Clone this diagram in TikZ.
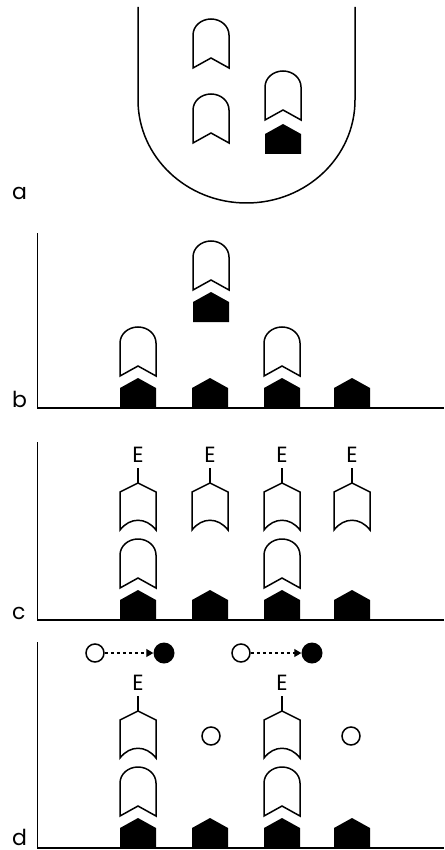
\documentclass[tikz,border=0pt]{standalone}
\usepackage{fontspec}
\setmainfont{Poppins}
\usetikzlibrary{arrows.meta}
\tikzset{
  outline/.style  = {draw, line width=1.5pt, fill=white},
  axis/.style     = {line width=1.7pt},
  lbl/.style      = {font=\fontsize{22}{24}\selectfont, inner sep=0pt},
  opencirc/.style = {circle, draw, line width=1.5pt, minimum size=18pt, inner sep=0pt},
  dot/.style      = {circle, fill=black, minimum size=21pt, inner sep=0pt},
  dasharr/.style  = {-{Triangle[length=7pt,width=8pt]}, dash pattern=on 3.5pt off 2.5pt,
                     line width=1.1pt},
  % open unit: rounded top, notched foot
  receptor/.pic   = {
    \draw[outline] (-18,0) -- (-18,-33)
      arc[start angle=180, end angle=360, x radius=18, y radius=16]
      -- (18,0) -- (0,-10) -- cycle;
  },
  % filled five-sided base
  anchorbase/.pic = {
    \fill (-18,0) -- (-18,-20) -- (0,-30) -- (18,-20) -- (18,0) -- cycle;
  },
  % pointed unit with hollow foot, carrying E
  enzyme/.pic     = {
    \draw[outline] (-18,0) .. controls (-8,-13) and (8,-13) .. (18,0)
      -- (18,-38) -- (0,-47) -- (-18,-38) -- cycle;
    \draw[line width=1.5pt] (0,-47) -- (0,-62);
    \node[lbl, anchor=base] (-e) at (0,-68) {E};
  }
}

\begin{document}
\begin{tikzpicture}[x=1pt, y=-1pt]
  \useasboundingbox (0,0) rectangle (444,850);

  % a
  \draw[line width=1.5pt] (138,7) -- (138,100)
    arc[start angle=180, end angle=0, x radius=108.5, y radius=103] -- (355,7);
  \pic at (211,68)  {receptor};
  \pic at (211,143) {receptor};
  \pic at (283,120) {receptor};
  \pic at (283,154) {anchorbase};
  \node[lbl, anchor=base west] (la) at (12,200) {a};

  % b
  \foreach \x in {138,210,282,352}
    \pic at (\x,408) {anchorbase};
  \foreach \x in {138,282}
    \pic at (\x,376) {receptor};
  \pic at (211,290) {receptor};
  \pic at (211,322) {anchorbase};
  \draw[axis] (37.5,233) -- (37.5,408) -- (444,408);
  \node[lbl, anchor=base west] (lb) at (12,407) {b};

  % c
  \foreach \x in {138,210,282,352} {
    \pic at (\x,620) {anchorbase};
    \pic (c\x) at (\x,530) {enzyme};
  }
  \foreach \x in {138,282}
    \pic at (\x,588) {receptor};
  \draw[axis] (37.5,442) -- (37.5,620) -- (444,620);
  \node[lbl, anchor=base west] (lc) at (12,619) {c};

  % d
  \foreach \x in {138,210,282,352}
    \pic at (\x,848) {anchorbase};
  \foreach \x in {138,282} {
    \pic at (\x,816) {receptor};
    \pic (d\x) at (\x,758) {enzyme};
  }
  \node[opencirc] (s1) at (211,736) {};
  \node[opencirc] (s2) at (351,736) {};
  \node[opencirc] (p1) at (95,653)  {};
  \node[dot]      (q1) at (164,653) {};
  \node[opencirc] (p2) at (241,653) {};
  \node[dot]      (q2) at (312,653) {};
  \draw[dasharr] (p1) -- (q1);
  \draw[dasharr] (p2) -- (q2);
  \draw[axis] (37.5,642) -- (37.5,848) -- (444,848);
  \node[lbl, anchor=base west] (ld) at (12,845) {d};
\end{tikzpicture}
\end{document}
